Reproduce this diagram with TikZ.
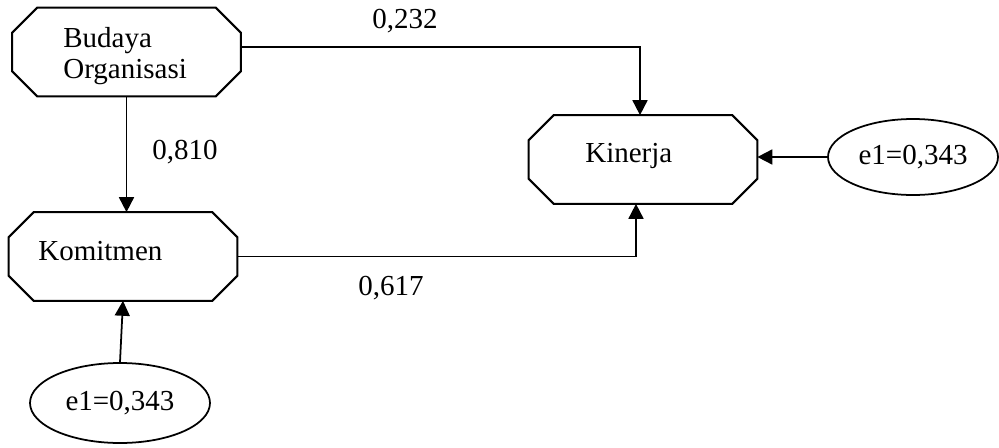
\documentclass[tikz,border=0pt]{standalone}
\usepackage{fontspec}
\setmainfont{Liberation Serif}
\usetikzlibrary{shapes.geometric,arrows.meta}

% octagon outline round a box node
\newcommand{\octo}[1]{%
  \draw [line width=1.2pt] ([xshift=0.5cm]#1.north west) -- ([xshift=-0.5cm]#1.north east)
    -- ([yshift=-0.5cm]#1.north east) -- ([yshift=0.5cm]#1.south east)
    -- ([xshift=-0.5cm]#1.south east) -- ([xshift=0.5cm]#1.south west)
    -- ([yshift=0.5cm]#1.south west) -- ([yshift=-0.5cm]#1.north west) -- cycle;}

\tikzset{
  octbox/.style={rectangle, minimum width=4.56cm, minimum height=1.76cm, inner sep=0pt},
  errnode/.style={draw, line width=1pt, ellipse, inner sep=0pt},
  link/.style={line width=1pt, -{Triangle[length=8.5pt,width=8.5pt]}}
}

\begin{document}
\begin{tikzpicture}[font=\fontsize{16.5}{17.6}\selectfont]
	\useasboundingbox (0, 0) rectangle (19.98, 8.94);
	\node [octbox] (budaya) at (2.53, 7.90) {};
	\node [octbox] (kinerja) at (12.86, 5.75) {};
	\node [octbox] (komitmen) at (2.46, 3.81) {};
	\octo{budaya}
	\octo{kinerja}
	\octo{komitmen}
	\node [anchor=west, align=left, inner sep=0pt] (budayatxt) at (1.26, 7.82) {Budaya\\Organisasi};
	\node [anchor=base west, inner sep=0pt] (kinerjatxt) at (11.70, 5.70) {Kinerja};
	\node [anchor=base west, inner sep=0pt] (komitmentxt) at (0.76, 3.74) {Komitmen};
	\node [errnode, minimum width=3.4cm, minimum height=1.52cm] (ekin) at (18.26, 5.80) {e1=0,343};
	\node [errnode, minimum width=3.6cm, minimum height=1.6cm] (ekom) at (2.40, 0.88) {e1=0,343};
	\node [anchor=base west, inner sep=0pt] (b1) at (7.44, 8.38) {0,232};
	\node [anchor=base west, inner sep=0pt] (b2) at (3.04, 5.76) {0,810};
	\node [anchor=base west, inner sep=0pt] (b3) at (7.16, 3.04) {0,617};
	\draw [link] ([yshift=0.1cm]budaya.east) -| ([xshift=-0.06cm]kinerja.north);
	\draw [link] (budaya.south) -- (budaya.south |- komitmen.north);
	\draw [link] (komitmen.east) -| ([xshift=-0.14cm]kinerja.south);
	\draw [link] (ekin.west) -- (ekin.west -| kinerja.east);
	\draw [link] (ekom.north) -- (komitmen.south);
\end{tikzpicture}
\end{document}
